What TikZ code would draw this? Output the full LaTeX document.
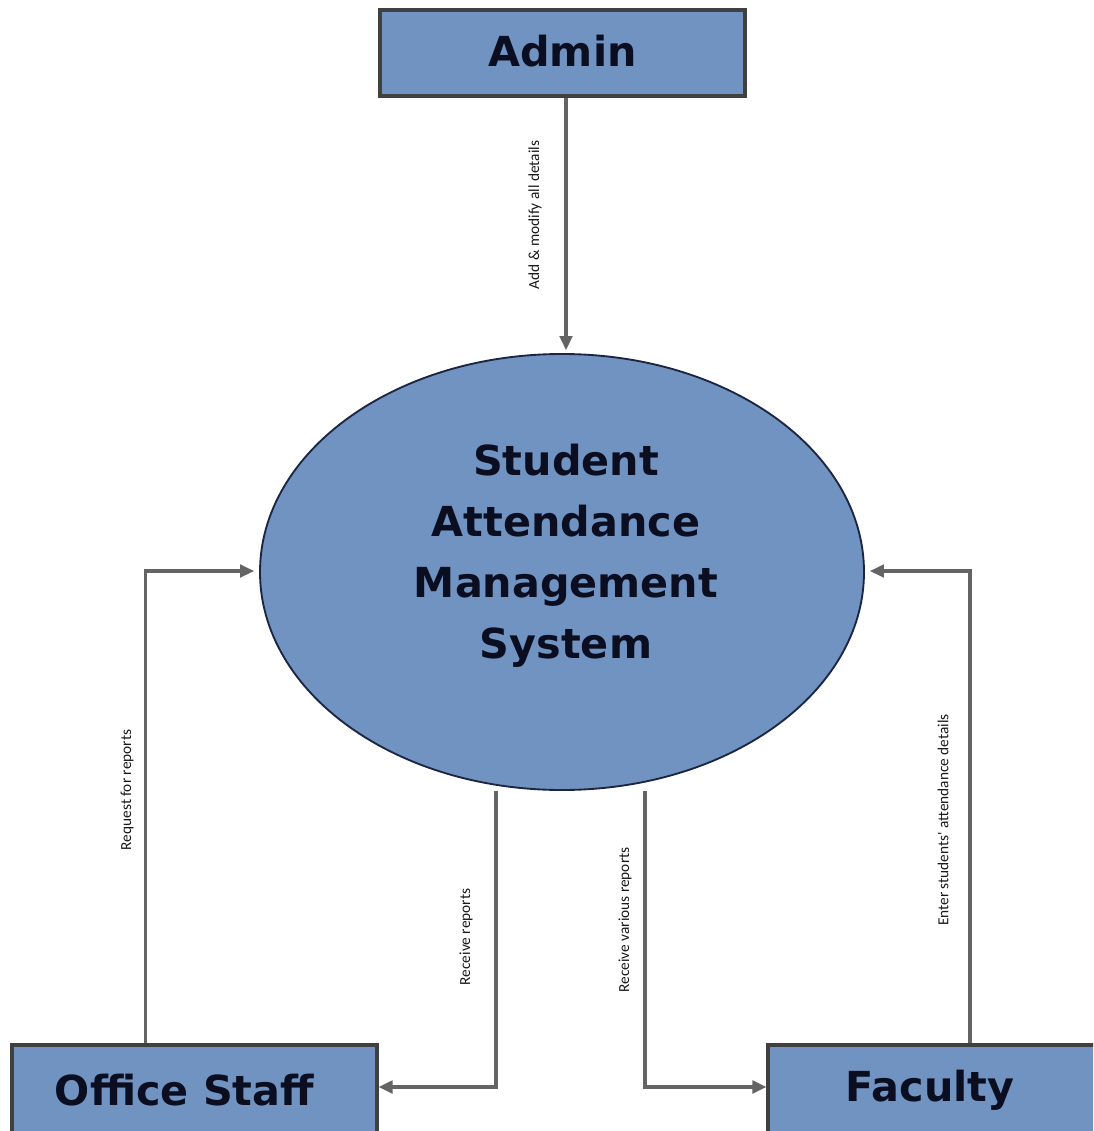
\documentclass[tikz,border=0pt]{standalone}
\usepackage{fontspec}
\setmainfont{DejaVu Sans}
\newfontfamily\labfont{Carlito}
\usetikzlibrary{shapes.geometric,arrows.meta,calc}
\definecolor{boxfill}{RGB}{113,147,193}
\definecolor{boxline}{RGB}{64,64,64}
\definecolor{elline}{RGB}{28,38,66}
\definecolor{connc}{RGB}{100,100,100}
\definecolor{txtc}{RGB}{10,14,32}
\definecolor{labc}{RGB}{25,25,25}
\tikzset{
  entity/.style={draw=boxline, line width=2.4pt, fill=boxfill, inner sep=0pt,
    font=\fontsize{31}{37}\selectfont\bfseries, text=txtc},
  process/.style={ellipse, draw=elline, line width=1.4pt, fill=boxfill,
    minimum width=453pt, minimum height=327pt, inner sep=0pt},
  proctext/.style={align=center, font=\fontsize{31}{45.75}\selectfont\bfseries, text=txtc},
  conn/.style={draw=connc, line width=2.3pt, -{Triangle[length=10.5pt,width=9.5pt]}},
  flowlabel/.style={rotate=90, font=\labfont\fontsize{11.5}{13}\selectfont, text=labc, inner sep=1pt}
}
\begin{document}
\begin{tikzpicture}[x=0.75pt,y=-0.75pt]
\useasboundingbox (0,0) rectangle (1093,1131);
\clip (0,0) rectangle (1093,1131);
\fill[white] (0,0) rectangle (1093,1131);

% nodes
\node[entity, minimum width=273.75pt, minimum height=64.5pt] (admin) at (562.5,53) {\raisebox{3pt}{Admin}};
\node[process] (sys) at (562,572) {};
\node[proctext] (systxt) at ($(sys.center)+(4,-16)$) {Student\\Attendance\\Management\\System};
\node[entity, minimum width=273.75pt, minimum height=67.5pt] (staff) at (194.5,1090) {Office Staff\hspace*{15pt}};
\node[entity, minimum width=249pt, minimum height=67.5pt] (fac) at (934,1090) {\raisebox{-2pt}{\hspace*{-6pt}Faculty}};

% connectors
\draw[conn] ($(admin.south)+(3.5,0)$) -- ($(sys.north)+(4,-3)$);
\draw[conn] ($(staff.north west)+(135,0)$) |- ($(sys.west)+(-5,-1)$);
\draw[conn] ($(sys.south)+(-66,0)$) |- ($(staff.east)+(0,-3)$);
\draw[conn] ($(sys.south)+(83,0)$) |- ($(fac.west)+(0,-3)$);
\draw[conn] ($(fac.north)+(36,0)$) |- ($(sys.east)+(5,-1)$);

% labels
\node[flowlabel] (l1) at (535,215) {Add \& modify all details};
\node[flowlabel] (l2) at (127,790) {Request for reports};
\node[flowlabel] (l3) at (466,937) {Receive reports};
\node[flowlabel] (l4) at (625,920) {Receive various reports};
\node[flowlabel] (l5) at (943,820) {Enter students' attendance details};
\end{tikzpicture}
\end{document}
